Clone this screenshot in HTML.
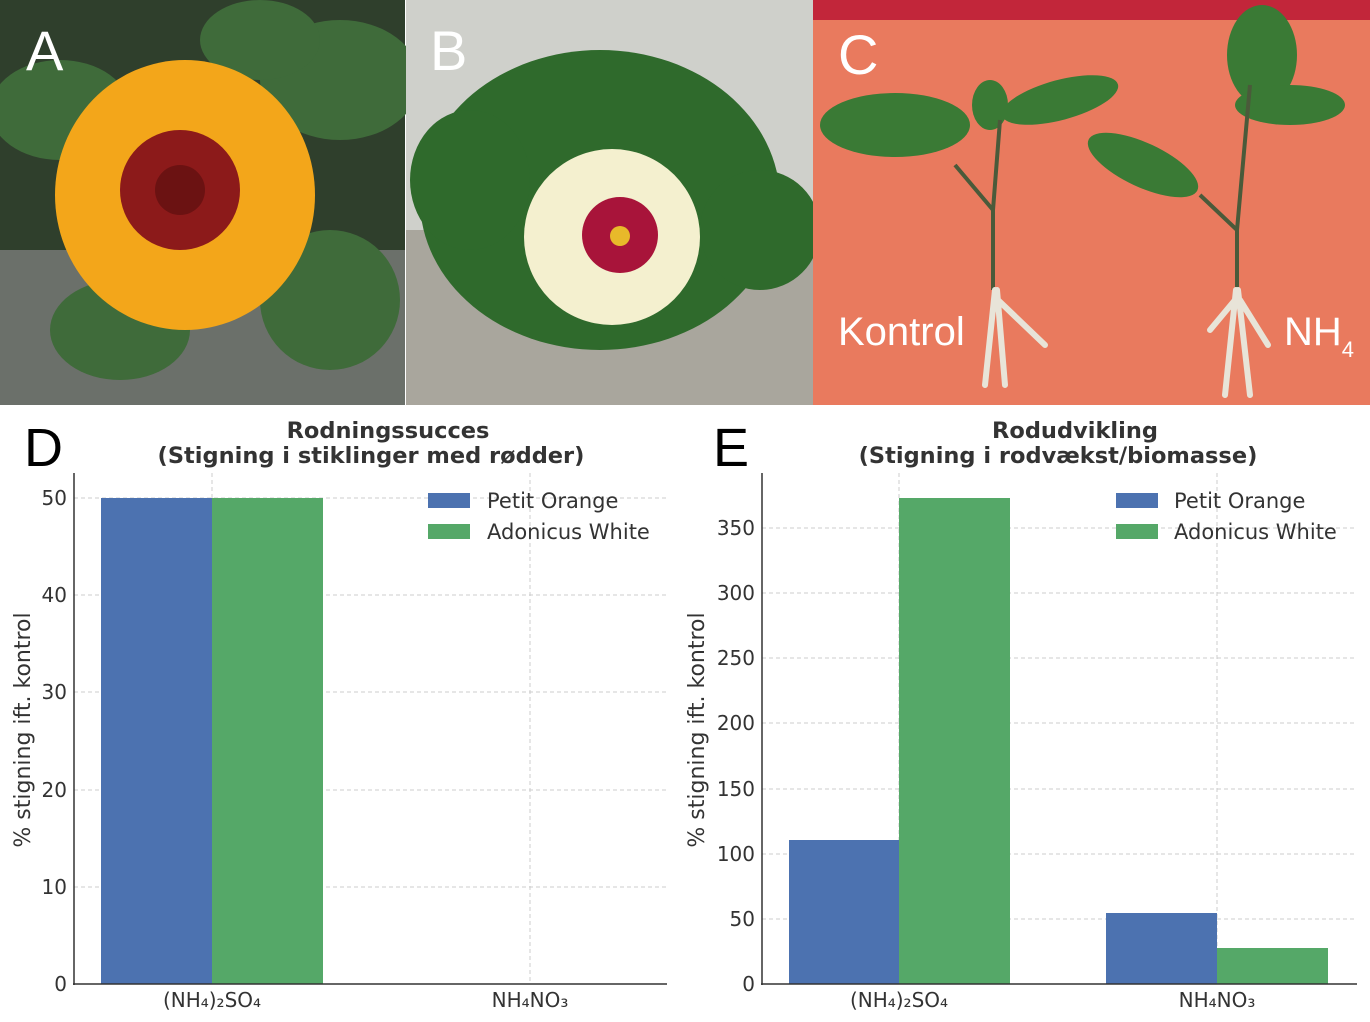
<!DOCTYPE html>
<html><head><meta charset="utf-8"><style>html,body{margin:0;padding:0;background:#fff}svg{display:block}</style></head>
<body>
<svg width="1370" height="1022" viewBox="0 0 1370 1022" xmlns="http://www.w3.org/2000/svg" font-family="'DejaVu Sans','Liberation Sans',sans-serif">
<!-- Panel A -->
<rect x="0" y="0" width="405" height="405" fill="#2f3f2c"/>
<rect x="0" y="250" width="405" height="155" fill="#6b706a"/>
<g fill="#3f6b3a"><ellipse cx="60" cy="110" rx="70" ry="50"/><ellipse cx="340" cy="80" rx="80" ry="60"/><ellipse cx="330" cy="300" rx="70" ry="70"/><ellipse cx="120" cy="330" rx="70" ry="50"/><ellipse cx="260" cy="40" rx="60" ry="40"/></g>
<ellipse cx="185" cy="195" rx="130" ry="135" fill="#f3a61a"/>
<ellipse cx="180" cy="190" rx="60" ry="60" fill="#8c1a1a"/>
<circle cx="180" cy="190" r="25" fill="#6b1212"/>
<text x="26" y="70" font-size="56" fill="#fff" font-family="'Liberation Sans',sans-serif">A</text>
<!-- Panel B -->
<rect x="406" y="0" width="407" height="405" fill="#cfd0cb"/>
<rect x="406" y="230" width="407" height="175" fill="#a9a69d"/>
<g fill="#2f6a2c"><ellipse cx="600" cy="200" rx="180" ry="150"/><ellipse cx="470" cy="180" rx="60" ry="70"/><ellipse cx="760" cy="230" rx="60" ry="60"/></g>
<ellipse cx="612" cy="237" rx="88" ry="88" fill="#f4f0cf"/>
<circle cx="620" cy="235" r="38" fill="#a8143a"/>
<circle cx="620" cy="236" r="10" fill="#e8b92a"/>
<text x="430" y="70" font-size="56" fill="#fff" font-family="'Liberation Sans',sans-serif">B</text>
<!-- Panel C -->
<rect x="813" y="0" width="557" height="405" fill="#e97a5e"/>
<rect x="813" y="0" width="557" height="20" fill="#c2263a"/>
<g fill="#3a7a35"><ellipse cx="895" cy="125" rx="75" ry="32"/><ellipse cx="1060" cy="100" rx="60" ry="20" transform="rotate(-15 1060 100)"/><ellipse cx="1143" cy="165" rx="60" ry="22" transform="rotate(25 1143 165)"/><ellipse cx="1262" cy="55" rx="35" ry="50"/><ellipse cx="1290" cy="105" rx="55" ry="20"/><ellipse cx="990" cy="105" rx="18" ry="25"/></g>
<g stroke="#4a5a3a" stroke-width="4" fill="none"><path d="M993 290 L993 210 L955 165 M993 210 L1000 120"/><path d="M1237 290 L1237 230 L1200 195 M1237 230 L1250 85"/></g>
<g stroke="#e8e4d8" stroke-width="6" fill="none" stroke-linecap="round"><path d="M995 290 L985 385 M997 290 L1005 385 M998 300 L1045 345"/><path d="M1236 290 L1225 395 M1238 290 L1250 395 M1235 300 L1210 330 M1240 300 L1268 345"/></g>
<text x="838" y="345" font-size="40" fill="#fff" font-family="'Liberation Sans',sans-serif">Kontrol</text>
<text x="1284" y="345" font-size="40" fill="#fff" font-family="'Liberation Sans',sans-serif">NH<tspan font-size="22" dy="12">4</tspan></text>
<text x="838" y="74" font-size="56" fill="#fff" font-family="'Liberation Sans',sans-serif">C</text>

<!-- Chart D -->
<text x="24" y="466" font-size="54" fill="#000" font-family="'Liberation Sans',sans-serif">D</text>
<text x="388" y="438" font-size="22.5" font-weight="bold" fill="#333" text-anchor="middle">Rodningssucces</text>
<text x="371" y="463" font-size="22.5" font-weight="bold" fill="#333" text-anchor="middle">(Stigning i stiklinger med rødder)</text>
<g stroke="#ccc" stroke-dasharray="4,3" stroke-width="1">
<line x1="74" x2="667" y1="498" y2="498"/><line x1="74" x2="667" y1="595" y2="595"/><line x1="74" x2="667" y1="692" y2="692"/><line x1="74" x2="667" y1="790" y2="790"/><line x1="74" x2="667" y1="887" y2="887"/>
<line x1="212" x2="212" y1="473" y2="984"/><line x1="530" x2="530" y1="473" y2="984"/></g>
<rect x="101" y="498" width="111" height="486" fill="#4c72b0"/>
<rect x="212" y="498" width="111" height="486" fill="#55a868"/>
<g stroke="#333" stroke-width="1.5"><line x1="74" y1="473" x2="74" y2="985"/><line x1="73" y1="984" x2="667" y2="984"/></g>
<g font-size="20" fill="#333" text-anchor="end"><text x="67" y="505">50</text><text x="67" y="602">40</text><text x="67" y="699">30</text><text x="67" y="797">20</text><text x="67" y="894">10</text><text x="67" y="991">0</text></g>
<g font-size="20" fill="#333" text-anchor="middle"><text x="212" y="1007">(NH₄)₂SO₄</text><text x="530" y="1007">NH₄NO₃</text></g>
<text transform="translate(30 730) rotate(-90)" font-size="22" fill="#333" text-anchor="middle">% stigning ift. kontrol</text>
<rect x="428" y="493" width="42" height="15" fill="#4c72b0"/><rect x="428" y="524" width="42" height="15" fill="#55a868"/>
<text x="487" y="508" font-size="21" fill="#333">Petit Orange</text><text x="487" y="539" font-size="21" fill="#333">Adonicus White</text>

<!-- Chart E -->
<text x="713" y="466" font-size="54" fill="#000" font-family="'Liberation Sans',sans-serif">E</text>
<text x="1075" y="438" font-size="22.5" font-weight="bold" fill="#333" text-anchor="middle">Rodudvikling</text>
<text x="1058" y="463" font-size="22.5" font-weight="bold" fill="#333" text-anchor="middle">(Stigning i rodvækst/biomasse)</text>
<g stroke="#ccc" stroke-dasharray="4,3" stroke-width="1">
<line x1="762" x2="1357" y1="528" y2="528"/><line x1="762" x2="1357" y1="593" y2="593"/><line x1="762" x2="1357" y1="658" y2="658"/><line x1="762" x2="1357" y1="723" y2="723"/><line x1="762" x2="1357" y1="789" y2="789"/><line x1="762" x2="1357" y1="854" y2="854"/><line x1="762" x2="1357" y1="919" y2="919"/>
<line x1="899" x2="899" y1="473" y2="984"/><line x1="1217" x2="1217" y1="473" y2="984"/></g>
<rect x="789" y="840" width="110" height="144" fill="#4c72b0"/>
<rect x="899" y="498" width="111" height="486" fill="#55a868"/>
<rect x="1106" y="913" width="111" height="71" fill="#4c72b0"/>
<rect x="1217" y="948" width="111" height="36" fill="#55a868"/>
<g stroke="#333" stroke-width="1.5"><line x1="762" y1="473" x2="762" y2="985"/><line x1="761" y1="984" x2="1357" y2="984"/></g>
<g font-size="20" fill="#333" text-anchor="end"><text x="755" y="535">350</text><text x="755" y="600">300</text><text x="755" y="665">250</text><text x="755" y="730">200</text><text x="755" y="796">150</text><text x="755" y="861">100</text><text x="755" y="926">50</text><text x="755" y="991">0</text></g>
<g font-size="20" fill="#333" text-anchor="middle"><text x="899" y="1007">(NH₄)₂SO₄</text><text x="1217" y="1007">NH₄NO₃</text></g>
<text transform="translate(704 730) rotate(-90)" font-size="22" fill="#333" text-anchor="middle">% stigning ift. kontrol</text>
<rect x="1116" y="493" width="42" height="15" fill="#4c72b0"/><rect x="1116" y="524" width="42" height="15" fill="#55a868"/>
<text x="1174" y="508" font-size="21" fill="#333">Petit Orange</text><text x="1174" y="539" font-size="21" fill="#333">Adonicus White</text>
</svg>
</body></html>
